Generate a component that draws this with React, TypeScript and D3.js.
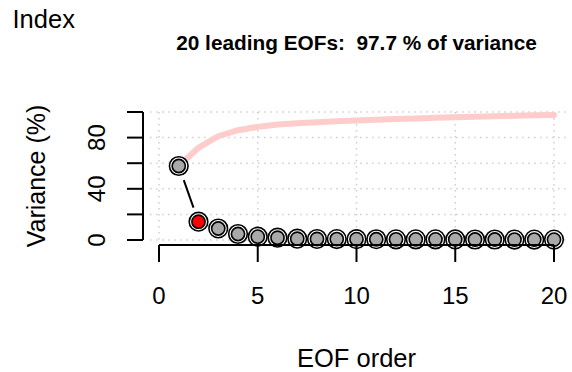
import * as d3 from 'd3';
import { useEffect, useRef } from 'react';

// percent of variance for each EOF
const eofOrder = d3.range(1, 21);
const variancePct = [
  57.8, 14.3, 9.0, 4.7, 2.6, 1.8, 1.0, 0.8, 0.7, 0.65,
  0.6, 0.55, 0.5, 0.5, 0.45, 0.4, 0.38, 0.35, 0.32, 0.3,
];
const xTicks = [0, 5, 10, 15, 20];
const yTicks = [0, 20, 40, 60, 80, 100];
const yTickLabels = ['0', '', '40', '', '80', ''];
const highlightIndex = 2;

const title = '20 leading EOFs:  97.7 % of variance';

const App = () => {
  const ref = useRef<SVGSVGElement>(null);

  useEffect(() => {
    if (!ref.current) return;
    const svg = d3.select(ref.current);
    svg.selectAll('*').remove();

    const font = 'Liberation Sans, Arial, sans-serif';

    const x = d3.scaleLinear().domain([0, 20]).range([159, 554]);
    const y = d3.scaleLinear().domain([0, 100]).range([240, 112]);

    const cumulative = d3.cumsum(variancePct);

    // dotted grid
    const grid = svg.append('g')
      .attr('stroke', '#cfcfcf')
      .attr('stroke-width', 1.5)
      .attr('stroke-dasharray', '1.5,4.5');
    grid.selectAll('.h')
      .data(yTicks)
      .join('line')
      .attr('x1', x(-0.45))
      .attr('x2', x(20.7))
      .attr('y1', d => y(d))
      .attr('y2', d => y(d));
    grid.selectAll('.v')
      .data(xTicks)
      .join('line')
      .attr('x1', d => x(d))
      .attr('x2', d => x(d))
      .attr('y1', y(100))
      .attr('y2', y(-3));

    // cumulative variance
    svg.append('path')
      .datum(cumulative)
      .attr('fill', 'none')
      .attr('stroke', '#ffcccc')
      .attr('stroke-width', 6)
      .attr('stroke-linecap', 'round')
      .attr('d', d3.line<number>().x((_, i) => x(eofOrder[i])).y(d => y(d)));

    // type "b" connecting segments with gaps around points
    const gap = 15;
    const segs = d3.pairs(eofOrder.map((e, i) => [x(e), y(variancePct[i])]));
    svg.append('g')
      .attr('stroke', '#000')
      .attr('stroke-width', 2)
      .selectAll('line')
      .data(segs.filter(([a, b]) => Math.hypot(b[0] - a[0], b[1] - a[1]) > 2 * gap))
      .join('line')
      .each(function ([a, b]) {
        const len = Math.hypot(b[0] - a[0], b[1] - a[1]);
        const ux = (b[0] - a[0]) / len;
        const uy = (b[1] - a[1]) / len;
        d3.select(this)
          .attr('x1', a[0] + ux * gap)
          .attr('y1', a[1] + uy * gap)
          .attr('x2', b[0] - ux * gap)
          .attr('y2', b[1] - uy * gap);
      });

    // points: double ring
    const pts = svg.append('g')
      .selectAll('g')
      .data(eofOrder)
      .join('g')
      .attr('transform', (d, i) => `translate(${x(d)},${y(variancePct[i])})`);
    pts.append('circle')
      .attr('r', 9.3)
      .attr('fill', '#fff')
      .attr('stroke', '#000')
      .attr('stroke-width', 1.6);
    pts.append('circle')
      .attr('r', 6.6)
      .attr('fill', d => (d === highlightIndex ? '#ff0000' : '#a9a9a9'))
      .attr('stroke', '#000')
      .attr('stroke-width', 1.6);

    // x axis
    const xAxis = svg.append('g');
    xAxis.append('line')
      .attr('x1', x(0)).attr('x2', x(20))
      .attr('y1', 245).attr('y2', 245)
      .attr('stroke', '#000').attr('stroke-width', 2);
    xAxis.selectAll('.tick')
      .data(xTicks)
      .join('line')
      .attr('x1', d => x(d)).attr('x2', d => x(d))
      .attr('y1', 245).attr('y2', 262)
      .attr('stroke', '#000').attr('stroke-width', 2);
    xAxis.selectAll('text')
      .data(xTicks)
      .join('text')
      .attr('x', d => x(d))
      .attr('y', 304)
      .attr('text-anchor', 'middle')
      .attr('font-family', font)
      .attr('font-size', 24)
      .text(d => d);

    // y axis
    const yAxis = svg.append('g');
    yAxis.append('line')
      .attr('x1', 143).attr('x2', 143)
      .attr('y1', y(0)).attr('y2', y(100))
      .attr('stroke', '#000').attr('stroke-width', 2);
    yAxis.selectAll('.tick')
      .data(yTicks)
      .join('line')
      .attr('x1', 127).attr('x2', 143)
      .attr('y1', d => y(d)).attr('y2', d => y(d))
      .attr('stroke', '#000').attr('stroke-width', 2);
    yAxis.selectAll('text')
      .data(yTicks)
      .join('text')
      .attr('transform', d => `translate(105,${y(d)}) rotate(-90)`)
      .attr('text-anchor', 'middle')
      .attr('font-family', font)
      .attr('font-size', 24)
      .text((_, i) => yTickLabels[i]);

    // labels
    svg.append('text')
      .attr('x', 356.5).attr('y', 367)
      .attr('text-anchor', 'middle')
      .attr('font-family', font)
      .attr('font-size', 25.5)
      .text('EOF order');
    svg.append('text')
      .attr('transform', `translate(45,${y(50)}) rotate(-90)`)
      .attr('text-anchor', 'middle')
      .attr('font-family', font)
      .attr('font-size', 25)
      .text('Variance (%)');
    svg.append('text')
      .attr('x', 12.5).attr('y', 28)
      .attr('font-family', font)
      .attr('font-size', 25.5)
      .text('Index');
    svg.append('text')
      .attr('x', 356.5).attr('y', 49.5)
      .attr('text-anchor', 'middle')
      .attr('font-family', font)
      .attr('font-size', 20.8)
      .attr('font-weight', 'bold')
      .style('white-space', 'pre')
      .text(title);
  }, []);

  return (
    <svg
      ref={ref}
      width={572}
      height={372}
      style={{ position: 'absolute', left: 0, top: 0, background: '#fff' }}
    />
  );
};

export default App;
